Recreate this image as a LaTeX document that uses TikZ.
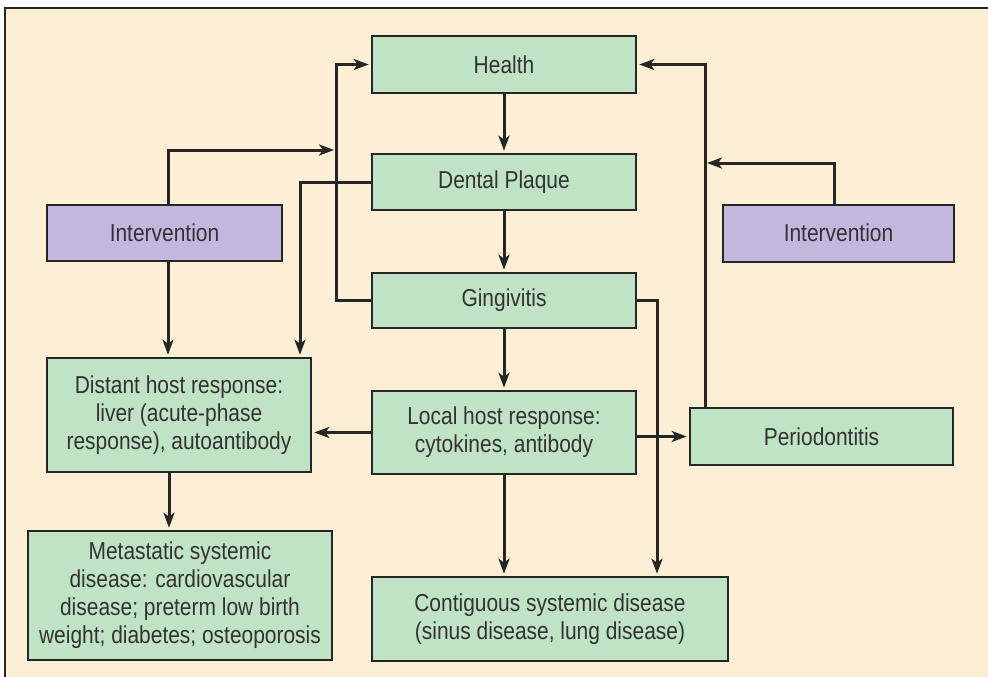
\documentclass[tikz,border=0pt]{standalone}
\usepackage{fontspec}
\setmainfont[FakeStretch=0.855]{Liberation Sans}
\usetikzlibrary{arrows.meta,calc}
\definecolor{cream}{HTML}{FCEFD6}
\definecolor{boxgreen}{HTML}{BFE3C4}
\definecolor{boxpurple}{HTML}{C4B7DE}
\definecolor{ink}{HTML}{262626}
\definecolor{txt}{HTML}{333333}
\tikzset{
  every node/.style={font=\fontsize{24.5}{28}\selectfont, text=txt},
  gbox/.style={draw=ink, line width=2.6pt, fill=boxgreen, align=center, inner sep=0pt},
  pbox/.style={draw=ink, line width=2pt, fill=boxpurple, align=center, inner sep=0pt},
  conn/.style={draw=ink, line width=3pt},
  arr/.style={conn, -{Stealth[length=15pt,width=11pt,inset=4pt]}, shorten >=2pt},
}
\begin{document}
\begin{tikzpicture}[x=1pt,y=-1pt]
\useasboundingbox (0,0) rectangle (988,677);
\fill[white] (0,0) rectangle (988,677);
\fill[cream] (5,8) rectangle (988,677);
\draw[ink, line width=2pt] (5,677) -- (5,8) -- (988,8);

\node[gbox, minimum width=264pt, minimum height=57pt] (health) at (504,64.5) {Health};
\node[gbox, minimum width=264pt, minimum height=56pt] (plaque) at (504,182) {Dental Plaque};
\node[gbox, minimum width=264pt, minimum height=55pt] (ging) at (504,300.5) {Gingivitis};
\node[gbox, minimum width=264pt, minimum height=83pt] (local) at (504,432.5) {Local host response:\\ cytokines, antibody};
\node[gbox, minimum width=263pt, minimum height=57pt] (perio) at (821.5,436.5) {Periodontitis};
\node[gbox, minimum width=356pt, minimum height=84pt] (contig) at (550,619) {Contiguous systemic disease\\ (sinus disease, lung disease)};
\node[pbox, minimum width=235pt, minimum height=56pt] (intl) at (164.5,233) {Intervention};
\node[pbox, minimum width=231pt, minimum height=57pt] (intr) at (838.5,233) {Intervention};
\node[gbox, minimum width=264pt, minimum height=114pt] (distant) at (179,415) {Distant host response:\\ liver (acute-phase\\ response), autoantibody};
\node[gbox, minimum width=304pt, minimum height=129pt] (meta) at (180,595.5) {Metastatic systemic\\ disease: cardiovascular\\ disease; preterm low birth\\ weight; diabetes; osteoporosis};

\coordinate (xL) at (336,0);
\coordinate (xD) at (300,0);
\coordinate (xI) at (168,0);
\coordinate (xM) at (169,0);
\coordinate (xG) at (657,0);
\coordinate (xR) at (705,0);
\coordinate (xIR) at (834,0);
\coordinate (yI) at (0,150);
\coordinate (yIR) at (0,163);

% main chain
\draw[arr] (health) -- (plaque);
\draw[arr] (plaque) -- (ging);
\draw[arr] (ging) -- (local);
\draw[arr] (local) -- (local.south |- contig.north);

% gingivitis back to health
\draw[arr] (ging.west) -| (xL |- health.west) -- (health.west);
% left intervention
\draw[arr] (intl.north -| xI) |- (xL |- yI);
\draw[arr] (intl.south -| xI) -- (distant.north -| xI);
% dental plaque to distant host
\draw[arr] (plaque.west) -| (distant.north -| xD);
% distant to metastatic
\draw[arr] (distant.south -| xM) -- (meta.north -| xM);
% local to distant
\draw[arr] (local.west) -- (local.west -| distant.east);
% local to periodontitis
\draw[arr] (perio.west -| local.east) -- (perio.west);
% gingivitis to contiguous
\draw[arr] (ging.east) -| (contig.north -| xG);
% periodontitis back to health
\draw[arr] (perio.north -| xR) |- (health.east);
% right intervention
\draw[arr] (intr.north -| xIR) |- (xR |- yIR);
\end{tikzpicture}
\end{document}
